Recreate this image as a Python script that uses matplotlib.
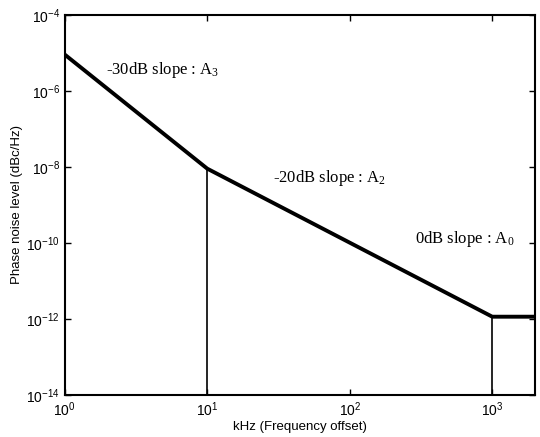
import numpy as np
import matplotlib.pyplot as plt
from matplotlib.ticker import NullLocator

plt.rcParams['font.family'] = ['Liberation Sans', 'DejaVu Sans']
plt.rcParams['mathtext.fontset'] = 'custom'
plt.rcParams['mathtext.rm'] = 'Liberation Sans'
plt.rcParams['mathtext.it'] = 'Liberation Sans:italic'

# corner points of the piecewise phase-noise curve
freq_khz = [1, 10, 1000, 2000]
noise = [9e-6, 9e-9, 1.15e-12, 1.15e-12]

# break frequencies marked with vertical lines
breaks = [10, 1000]
break_levels = [9e-9, 1.15e-12]

labels = [r'-30dB slope : $\mathregular{A_3}$',
          r'-20dB slope : $\mathregular{A_2}$',
          r'0dB slope : $\mathregular{A_0}$']
label_x = [1.95, 29, 285]
label_y = [10**-5.45, 10**-8.3, 10**-9.9]

yticks = [1e-14, 1e-12, 1e-10, 1e-8, 1e-6, 1e-4]
xticks = [1, 10, 100, 1000]

fig = plt.figure(figsize=(5.4, 4.37), dpi=100)
ax = fig.add_axes([0.120, 0.096, 0.871, 0.870])

ax.loglog(freq_khz, noise, color='black', lw=2.8, solid_capstyle='butt')
for b, lvl in zip(breaks, break_levels):
    ax.vlines(b, 1e-14, lvl, color='black', lw=1.2)

for t, x, y in zip(labels, label_x, label_y):
    ax.text(x, y, t, family=['Liberation Serif', 'DejaVu Serif'], fontsize=12,
            va='center', ha='left')

ax.set_xlim(1, 2000)
ax.set_ylim(1e-14, 1e-4)
ax.set_xticks(xticks)
ax.set_yticks(yticks)
ax.xaxis.set_minor_locator(NullLocator())
ax.yaxis.set_minor_locator(NullLocator())
ax.tick_params(direction='in', top=True, right=True, labelsize=10, length=4, width=1)
for s in ax.spines.values():
    s.set_linewidth(1.5)

ax.set_xlabel('kHz (Frequency offset)', fontsize=9.5, labelpad=2)
ax.set_ylabel('Phase noise level (dBc/Hz)', fontsize=9.5, labelpad=2)

fig.savefig('out.png', dpi=100)
